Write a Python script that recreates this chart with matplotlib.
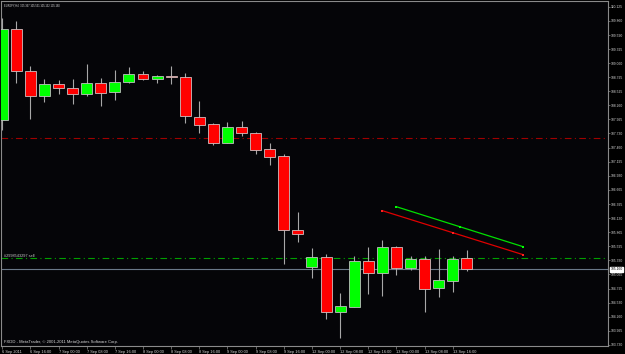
import matplotlib
matplotlib.use("Agg")
import matplotlib.pyplot as plt
from matplotlib import font_manager
import numpy as np

# ---- data (EURJPY H4) ----
bar_index = list(range(34))
opens  = [107.983, 109.698, 108.910, 108.437, 108.658, 108.583, 108.480, 108.688, 108.510, 108.702,
          108.847, 108.753, 108.821, 108.802, 108.046, 107.902, 107.543, 107.857, 107.743, 107.429,
          107.303, 105.904, 105.205, 105.399, 104.348, 104.454, 105.324, 105.097, 105.577, 105.191,
          105.356, 104.802, 104.946, 105.367]
highs  = [109.911, 109.855, 109.004, 108.753, 108.739, 108.753, 109.042, 108.783, 108.928, 108.980,
          108.910, 108.834, 109.004, 108.866, 108.342, 107.921, 107.951, 107.964, 107.762, 107.554,
          107.335, 106.244, 105.564, 105.445, 104.719, 105.413, 105.577, 105.715, 105.602, 105.413,
          105.413, 105.539, 105.413, 105.531]
lows   = [107.794, 108.688, 107.997, 108.329, 108.469, 108.280, 108.437, 108.248, 108.361, 108.688,
          108.734, 108.688, 108.670, 107.921, 107.743, 107.511, 107.543, 107.681, 107.341, 107.133,
          105.261, 105.683, 104.991, 104.222, 103.857, 104.454, 104.689, 104.656, 105.053, 105.148,
          104.360, 104.643, 104.738, 105.132]
closes = [109.698, 108.910, 108.437, 108.658, 108.583, 108.480, 108.688, 108.499, 108.702, 108.847,
          108.753, 108.815, 108.790, 108.059, 107.889, 107.543, 107.857, 107.732, 107.416, 107.290,
          105.904, 105.828, 105.399, 104.348, 104.467, 105.324, 105.097, 105.577, 105.191, 105.356,
          104.789, 104.959, 105.356, 105.160]

xtick_bars = [0, 2, 4, 6, 8, 10, 12, 14, 16, 18, 20, 22, 24, 26, 28, 30, 32]
xtick_labels = ["6 Sep 2011", "6 Sep 16:00", "7 Sep 00:00", "7 Sep 08:00", "7 Sep 16:00",
                "8 Sep 00:00", "8 Sep 08:00", "8 Sep 16:00", "9 Sep 00:00", "9 Sep 08:00",
                "9 Sep 16:00", "12 Sep 00:00", "12 Sep 08:00", "12 Sep 16:00", "13 Sep 00:00",
                "13 Sep 08:00", "13 Sep 16:00"]

ytick_labels = ["110.125", "109.860", "109.590", "109.325", "109.060", "108.795", "108.525",
                "108.260", "107.995", "107.730", "107.460", "107.195", "106.930", "106.665",
                "106.395", "106.130", "105.865", "105.595", "105.330", "105.065", "104.795",
                "104.530", "104.260", "103.995", "103.730"]

bid_price = 105.160
sl_level = 107.643       # dark red dash-dot
order_level = 105.369    # green dash-dot order line
order_label = "#2998543297 sell"

green_trend_x = [28, 32.5, 37]
green_trend_y = [106.344, 105.966, 105.588]
red_trend_x = [27, 32, 37]
red_trend_y = [106.269, 105.853, 105.437]

header = "EURJPY,H4  105.367 105.531 105.132 105.160"
footer = "FXDD - MetaTrader, \u00a9 2001-2011 MetaQuotes Software Corp."

# ---- fonts ----
names = {f.name for f in font_manager.fontManager.ttflist}
if "Liberation Sans Narrow" in names:
    fam, k = ["Liberation Sans Narrow", "DejaVu Sans"], 1.0
else:
    fam, k = ["Liberation Sans", "DejaVu Sans"], 0.82
plt.rcParams["font.family"] = fam

# ---- figure ----
W, H = 625, 354
fig = plt.figure(figsize=(W / 100, H / 100), dpi=100, facecolor="black")
ax = fig.add_axes([1 / W, (H - 346) / H, (608 - 1) / W, (346 - 1) / H], facecolor="#050508")

frame_col = "#8a8a8a"
for s in ax.spines.values():
    s.set_color(frame_col)
    s.set_linewidth(0.8)

x = np.array(bar_index, dtype=float)
o = np.array(opens); c = np.array(closes); h = np.array(highs); l = np.array(lows)
up = c >= o

ax.vlines(x, l, h, color="#a8a8a8", linewidth=0.8, zorder=2)
body_w = 0.78
ax.bar(x[up], (c - o)[up], bottom=o[up], width=body_w, color="#00ff00",
       edgecolor="#c0c0c0", linewidth=0.6, zorder=3)
ax.bar(x[~up], (c - o)[~up], bottom=o[~up], width=body_w, color="#ff0000",
       edgecolor="#d0c0c0", linewidth=0.6, zorder=3)

# horizontal lines
ax.axhline(sl_level, color="#a00000", linewidth=0.8, linestyle=(0, (6, 3, 1, 3)), zorder=1)
ax.axhline(order_level, color="#00a000", linewidth=0.8, linestyle=(0, (6, 3, 1, 3)), zorder=1)
ax.axhline(bid_price, color="#6a7888", linewidth=0.8, zorder=1)

# trend lines
ax.plot(green_trend_x, green_trend_y, color="#00e000", linewidth=0.9, zorder=4,
        marker="s", markersize=2, markerfacecolor="#00ff00", markeredgewidth=0)
ax.plot(red_trend_x, red_trend_y, color="#e00000", linewidth=0.9, zorder=4,
        marker="s", markersize=2, markerfacecolor="#ff2020", markeredgewidth=0)

# axes limits: bar i at pixel 2.2 + 14.08 i ; plot from px 1 to 608
px_per_bar = 14.08
ax.set_xlim((1 - 2.2) / px_per_bar, (608 - 2.2) / px_per_bar)
ax.set_ylim(103.711, 110.233)

# y ticks on the right
ytick_vals = [float(t) for t in ytick_labels]
ax.yaxis.tick_right()
ax.set_yticks(ytick_vals)
ax.set_yticklabels(ytick_labels)
ax.tick_params(axis="y", colors=frame_col, labelcolor="#d8d8d8", labelsize=3.0 * k,
               length=1.5, width=0.5, pad=0.8)

ax.set_xticks(xtick_bars)
ax.set_xticklabels(xtick_labels, ha="left")
ax.tick_params(axis="x", colors=frame_col, labelcolor="#d8d8d8", labelsize=3.4 * k,
               length=2, width=0.5, pad=0.6)

# bid label box
ax.annotate(f"{bid_price:.3f}", xy=(1.0, bid_price), xycoords=("axes fraction", "data"),
            xytext=(1.6, 0), textcoords="offset points", ha="left", va="center",
            fontsize=3.0 * k, color="black",
            bbox=dict(boxstyle="square,pad=0.15", facecolor="white", edgecolor="white"),
            annotation_clip=False)

# texts
ax.text(3 / 607, 1 - 4.5 / 345, header, transform=ax.transAxes, ha="left", va="center",
        fontsize=2.3 * k, color="#d8d8d8")
ax.text(3 / 607, 1 - 341 / 345, footer, transform=ax.transAxes, ha="left", va="center",
        fontsize=3.6 * k, color="#d8d8d8")
ax.text(0.005, order_level, order_label, ha="left", va="bottom",
        fontsize=3.4 * k, color="#c8c8c8", transform=ax.get_yaxis_transform())

fig.savefig("out.png", dpi=100, facecolor="black")
